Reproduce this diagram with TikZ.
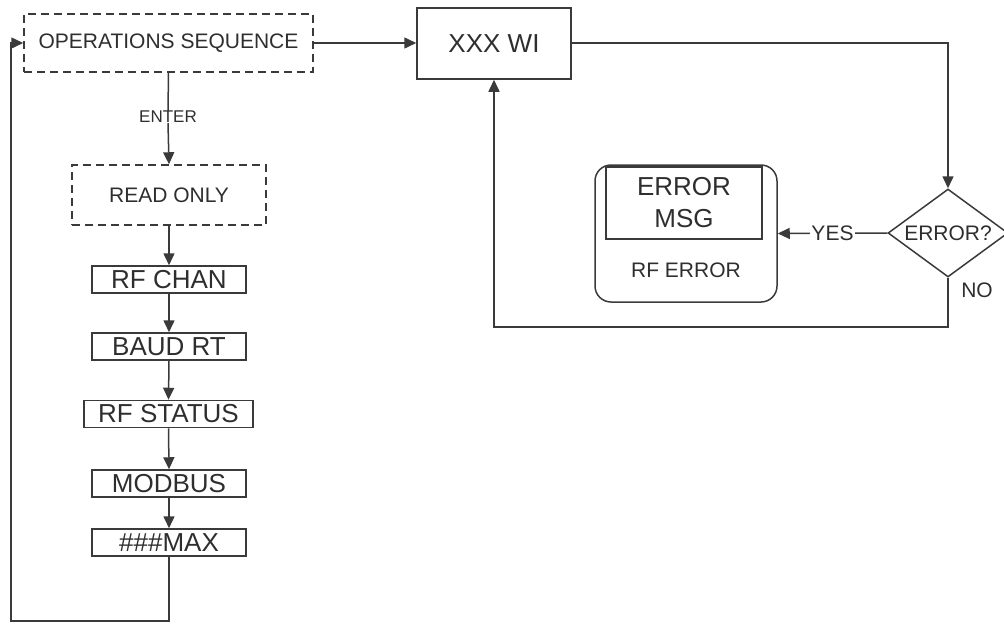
\documentclass[tikz,border=0pt]{standalone}
\usepackage{fontspec}
\setmainfont{Liberation Sans}
\usetikzlibrary{arrows.meta,shapes.geometric}
\definecolor{ln}{HTML}{3A3A3A}
\definecolor{tx}{HTML}{2E2E2E}
\begin{document}
\begin{tikzpicture}[x=1pt,y=-1pt,
  every node/.style={text=tx, inner sep=0pt},
  conn/.style={draw=ln, line width=1.5pt},
  arr/.style={conn, -{Triangle[length=12pt,width=11pt]}},
  dashbox/.style={draw=ln, line width=1.5pt, dash pattern=on 8pt off 5pt, minimum width=#1},
  smallbox/.style={draw=ln, line width=1.5pt, minimum height=27pt, minimum width=#1, font=\fontsize{26}{28}\selectfont},
  midtext/.style={font=\fontsize{21}{24}\selectfont},
  bigtext/.style={font=\fontsize{26}{32}\selectfont}
]
\useasboundingbox (0,0) rectangle (1004,624);
% left column
\node[dashbox=289pt, minimum height=58pt, midtext] (ops) at (168.5,43) {OPERATIONS SEQUENCE};
\node[font=\fontsize{17}{20}\selectfont] (enter) at (168,117) {ENTER};
\node[dashbox=194pt, minimum height=60pt, midtext] (ro) at (169,195) {READ ONLY};
\node[smallbox=154pt] (rfchan) at (169,279.5) {RF CHAN};
\node[smallbox=154pt] (baud) at (169,346.5) {BAUD RT};
\node[smallbox=169pt] (rfstat) at (168.5,414) {RF STATUS};
\node[smallbox=154pt] (modbus) at (169,483.5) {MODBUS};
\node[smallbox=154pt] (max) at (169,542.5) {\#\#\#MAX};
% right part
\node[draw=ln, line width=1.5pt, minimum width=154pt, minimum height=71pt, bigtext] (xxx) at (494,43.5) {XXX WI};
\node[draw=ln, line width=1.5pt, diamond, aspect=1.364, minimum width=120pt, minimum height=88pt, midtext] (dia) at (948,233) {ERROR?};
\node[draw=ln, line width=1.5pt, rounded corners=16pt, minimum width=182pt, minimum height=137pt] (rbox) at (686,233.5) {};
\node[draw=ln, line width=1.5pt, minimum width=156pt, minimum height=72pt, bigtext, align=center] (msg) at (684,203) {ERROR\\MSG};
\node[midtext] (rferr) at (686,270) {RF ERROR};
\node[midtext] (no) at (977,290) {NO};
% coordinates
\coordinate (c1) at (948,327);
\coordinate (c2) at (169,621);
\coordinate (c3) at (11,621);
\coordinate (c4) at (11,43);
% connectors
\draw[arr] (ops.east) -- (ops.east -| xxx.west);
\draw[arr] (xxx.east |- 0,43) -| (dia.north);
\draw[arr] (dia.west) -- node[fill=white, inner xsep=1pt, midtext] (yes) {YES} (rbox.east);
\draw[arr] (dia.south) -- (c1) -| (xxx.south);
\draw[conn] (ops.south) -- (enter.north);
\draw[arr] (enter.south) -- (ro.north);
\draw[arr] (ro.south) -- (rfchan.north);
\draw[arr] (rfchan.south) -- (baud.north);
\draw[arr] (baud.south) -- (rfstat.north);
\draw[arr] (rfstat.south) -- (modbus.north);
\draw[arr] (modbus.south) -- (max.north);
\draw[arr] (max.south) -- (c2) -- (c3) -- (c4) -- (ops.west);
\end{tikzpicture}
\end{document}
